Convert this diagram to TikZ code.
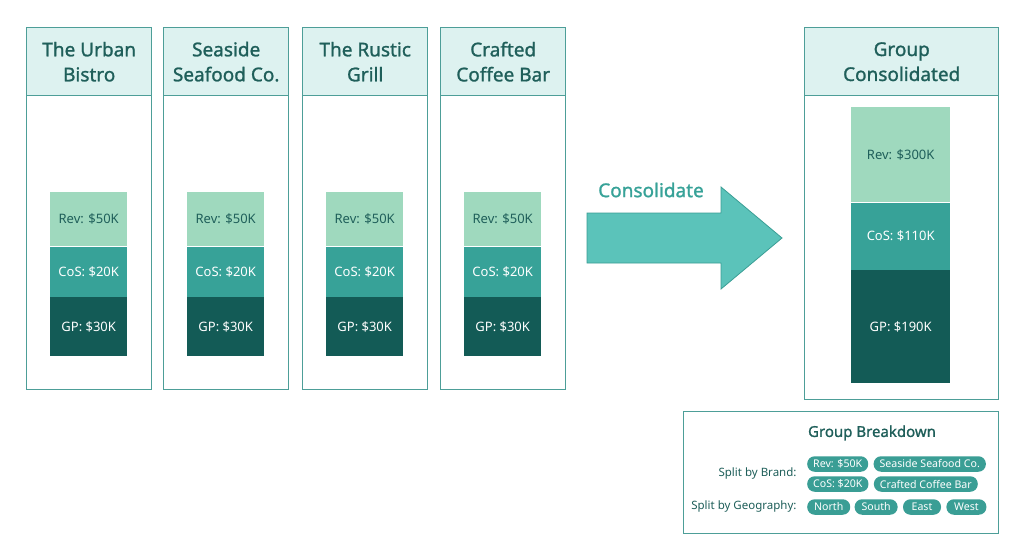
\documentclass[tikz,border=0pt]{standalone}
\usepackage{fontspec}
\setmainfont{Noto Sans}
\newfontfamily\medfont{Noto Sans}[FakeBold=1.2]
\usetikzlibrary{positioning}
\definecolor{boxline}{HTML}{4D9E98}
\definecolor{headfill}{HTML}{DDF2F0}
\definecolor{headtext}{HTML}{1F5F5A}
\definecolor{revfill}{HTML}{9FD9BE}
\definecolor{cosfill}{HTML}{37A298}
\definecolor{gpfill}{HTML}{135B56}
\definecolor{arrowfill}{HTML}{5BC3BA}
\definecolor{pillfill}{HTML}{3A9E95}
\tikzset{
  colbox/.style={draw=boxline,line width=1.4pt,anchor=north west,inner sep=0pt},
  headbox/.style={colbox,fill=headfill,text=headtext,align=center,
    font=\medfont\fontsize{19}{25}\selectfont},
  barpart/.style={anchor=north west,inner sep=0pt,minimum width=#1,
    font=\fontsize{13}{15}\selectfont},
  revpart/.style={barpart=#1,fill=revfill,text=headtext},
  cospart/.style={barpart=#1,fill=cosfill,text=white},
  gppart/.style={barpart=#1,fill=gpfill,text=white},
  pill/.style={fill=pillfill,text=white,rounded corners=7.5pt,minimum height=15.5pt,
    inner xsep=6pt,inner ysep=0pt,font=\fontsize{10.6}{12}\selectfont}
}
\begin{document}
\begin{tikzpicture}[x=1pt,y=-1pt]
  \useasboundingbox[fill=white] (0,0) rectangle (1024,559);
  % brand columns
  \foreach \n/\x/\name in {urban/26/The Urban\\Bistro,seaside/163/Seaside\\Seafood Co.,
      rustic/302/The Rustic\\Grill,coffee/440/Crafted\\Coffee Bar}{
    \node[colbox,minimum width=125,minimum height=362] (box\n) at (\x,27) {};
    \node[headbox,minimum width=125,minimum height=68] (head\n) at (\x,27) {\name};
    \node[revpart=77,minimum height=54] (rev\n) at (\x+24,192) {Rev: \$50K};
    \node[cospart=77,minimum height=50,below=0pt of rev\n] (cos\n) {CoS: \$20K};
    \node[gppart=77,minimum height=59,below=0pt of cos\n] (gp\n) {GP: \$30K};
  }
  % consolidate arrow
  \draw[fill=arrowfill,draw=pillfill,line width=0.8pt,line join=miter]
    (587,213) -- (721,213) -- (721,187) -- (782,238) -- (721,289)
    -- (721,263) -- (587,263) -- cycle;
  \node[text=cosfill,font=\medfont\fontsize{19}{22}\selectfont] (consol) at (651,190)
    {Consolidate};
  % group column
  \node[colbox,minimum width=194,minimum height=372] (boxgroup) at (804,27) {};
  \node[headbox,minimum width=194,minimum height=68] (headgroup) at (804,27)
    {Group\\Consolidated};
  \node[revpart=99,minimum height=95] (revgroup) at (851,107) {Rev: \$300K};
  \node[cospart=99,minimum height=67,below=0pt of revgroup] (cosgroup) {CoS: \$110K};
  \node[gppart=99,minimum height=113,below=0pt of cosgroup] (gpgroup) {GP: \$190K};
  % breakdown panel
  \node[colbox,minimum width=315,minimum height=122] (panel) at (683,411) {};
  \node[text=headtext,font=\medfont\fontsize{15}{18}\selectfont] (paneltitle)
    at (872,433) {Group Breakdown};
  \node[anchor=east,text=headtext,font=\fontsize{11.5}{14}\selectfont] (brandlbl)
    at (800,474) {Split by Brand:};
  \node[anchor=east,text=headtext,font=\fontsize{11.5}{14}\selectfont] (geolbl)
    at (800,507) {Split by Geography:};
  \node[pill,anchor=west] (pillrev) at (807,464) {Rev: \$50K};
  \node[pill,right=5pt of pillrev] (pillsea) {Seaside Seafood Co.};
  \node[pill,anchor=west] (pillcos) at (807,484) {CoS: \$20K};
  \node[pill,right=5pt of pillcos] (pillcof) {Crafted Coffee Bar};
  \node[pill,anchor=west,minimum width=43] (pillnorth) at (807,507) {North};
  \node[pill,minimum width=43,right=4pt of pillnorth] (pillsouth) {South};
  \node[pill,minimum width=38,right=5pt of pillsouth] (pilleast) {East};
  \node[pill,minimum width=40,right=5pt of pilleast] (pillwest) {West};
\end{tikzpicture}
\end{document}
